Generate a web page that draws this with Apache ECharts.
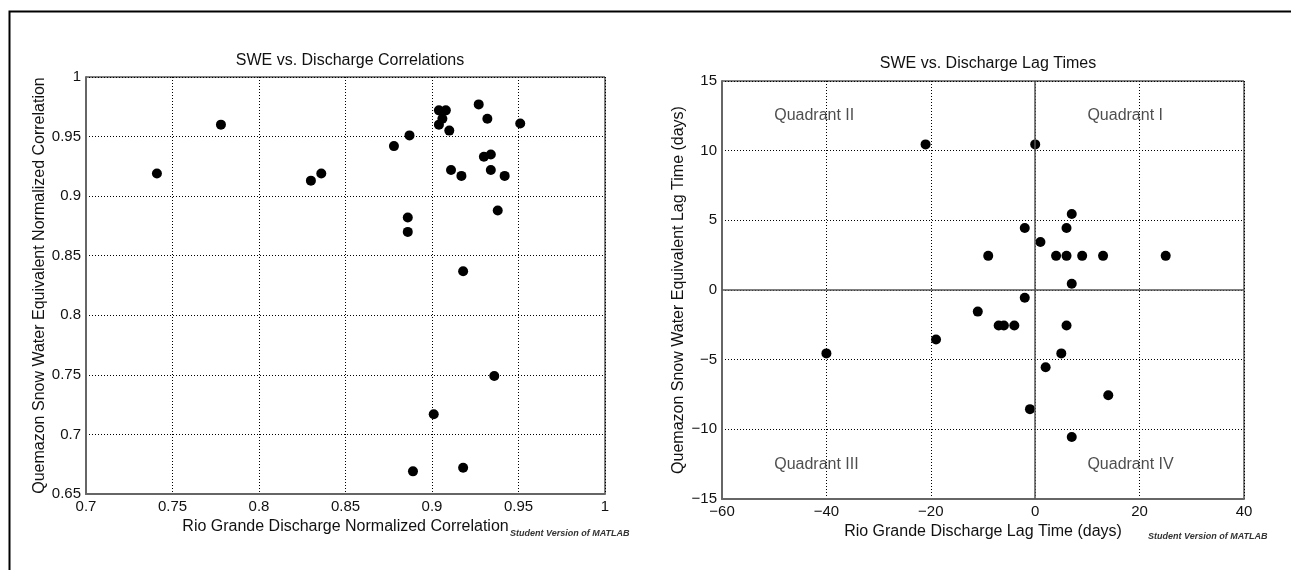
<!DOCTYPE html>
<html>
<head>
<meta charset="utf-8">
<title>SWE vs. Discharge</title>
<script src="https://cdn.jsdelivr.net/npm/echarts@6/dist/echarts.min.js"></script>
<style>
  html, body { margin: 0; padding: 0; background: #fff; }
  #main { width: 1291px; height: 570px; }
</style>
</head>
<body>
<div id="main"></div>
<script>
// left panel: normalized correlations
var corrDischarge = [0.741, 0.778, 0.830, 0.836, 0.904, 0.908, 0.906, 0.904, 0.910, 0.927, 0.932, 0.951, 0.887, 0.878,
  0.930, 0.934, 0.911, 0.917, 0.934, 0.942, 0.886, 0.886, 0.938, 0.918, 0.936, 0.901, 0.889, 0.918];
var corrSwe = [0.919, 0.960, 0.913, 0.919, 0.972, 0.972, 0.965, 0.960, 0.955, 0.977, 0.965, 0.961, 0.951, 0.942,
  0.933, 0.935, 0.922, 0.917, 0.922, 0.917, 0.882, 0.870, 0.888, 0.837, 0.749, 0.717, 0.669, 0.672];

// right panel: lag times (days)
var lagDischarge = [-21, 0, 7, -2, 6, 1, -9, 4, 6, 9, 13, 25, 7, -2, -11, -7, -6, -4, 6, 5, 2, 14, -1, 7, -40, -19];
var lagSwe = [10.45, 10.45, 5.45, 4.45, 4.45, 3.45, 2.45, 2.45, 2.45, 2.45, 2.45, 2.45, 0.45, -0.55, -1.55, -2.55,
  -2.55, -2.55, -2.55, -4.55, -5.55, -7.55, -8.55, -10.55, -4.55, -3.55];

var quadNames = ['Quadrant II', 'Quadrant I', 'Quadrant III', 'Quadrant IV'];
var quadX = [-50, 10, -50, 10];
var quadY = [12.5, 12.5, -12.5, -12.5];

var FONT = "'Liberation Sans', Arial, Helvetica, sans-serif";
var minus = function (v) { return String(v).replace('-', '\u2212'); };

function pairs(xs, ys) {
  return xs.map(function (x, i) { return [x, ys[i]]; });
}

var chart = echarts.init(document.getElementById('main'));

function valAxis(grid, min, max, step, name, gap) {
  return {
    type: 'value', gridIndex: grid, min: min, max: max, interval: step,
    name: name, nameLocation: 'middle', nameGap: gap,
    nameTextStyle: { color: '#111', fontSize: 16, fontFamily: FONT },
    axisLine: { show: true, onZero: false, lineStyle: { color: '#666', width: 2 } },
    axisTick: { show: false },
    axisLabel: { color: '#111', fontSize: 15, fontFamily: FONT, margin: 5, formatter: minus },
    splitLine: { show: true, lineStyle: { color: '#000', width: 1, type: [1, 2] } }
  };
}

var option = {
  animation: false,
  backgroundColor: '#fff',
  title: [
    { text: 'SWE vs. Discharge Correlations', left: 345, top: 48, textAlign: 'center',
      textStyle: { fontSize: 16, fontWeight: 'normal', color: '#111', fontFamily: FONT } },
    { text: 'SWE vs. Discharge Lag Times', left: 983, top: 51, textAlign: 'center',
      textStyle: { fontSize: 16, fontWeight: 'normal', color: '#111', fontFamily: FONT } }
  ],
  grid: [
    { left: 86, top: 77, width: 519, height: 417, show: true, borderColor: '#000', borderWidth: 1 },
    { left: 722, top: 81, width: 522, height: 418, show: true, borderColor: '#000', borderWidth: 1 }
  ],
  xAxis: [
    valAxis(0, 0.7, 1, 0.05, 'Rio Grande Discharge Normalized Correlation', 17),
    valAxis(1, -60, 40, 20, 'Rio Grande Discharge Lag Time (days)', 16)
  ],
  yAxis: [
    valAxis(0, 0.65, 1, 0.05, 'Quemazon Snow Water Equivalent Normalized Correlation', 38),
    valAxis(1, -15, 15, 5, 'Quemazon Snow Water Equivalent Lag Time (days)', 35)
  ],
  series: [
    {
      type: 'scatter', xAxisIndex: 0, yAxisIndex: 0,
      symbol: 'circle', symbolSize: 10,
      itemStyle: { color: '#000', opacity: 1 },
      data: pairs(corrDischarge, corrSwe)
    },
    {
      type: 'scatter', xAxisIndex: 1, yAxisIndex: 1,
      symbol: 'circle', symbolSize: 10,
      itemStyle: { color: '#000', opacity: 1 },
      data: pairs(lagDischarge, lagSwe),
      markLine: {
        silent: true, symbol: 'none', label: { show: false },
        lineStyle: { color: '#555', width: 1.5, type: 'solid' },
        data: [{ xAxis: 0 }, { yAxis: 0 }]
      }
    },
    {
      // quadrant annotations
      type: 'scatter', xAxisIndex: 1, yAxisIndex: 1,
      symbolSize: 0, silent: true,
      label: {
        show: true, position: 'right', distance: 0,
        formatter: function (p) { return p.name; },
        color: '#222', fontSize: 16, fontFamily: FONT
      },
      data: quadNames.map(function (n, i) { return { name: n, value: [quadX[i], quadY[i]] }; })
    }
  ],
  graphic: [
    { type: 'rect', left: 7, top: 9, shape: { width: 1400, height: 700 }, style: { fill: null, stroke: '#000', lineWidth: 2 }, silent: true },
    { type: 'text', left: 510, top: 529, style: { text: 'Student Version of MATLAB', font: 'italic bold 9px ' + FONT, fill: '#333' } },
    { type: 'text', left: 1148, top: 532, style: { text: 'Student Version of MATLAB', font: 'italic bold 9px ' + FONT, fill: '#333' } }
  ]
};

chart.setOption(option);
</script>
</body>
</html>
